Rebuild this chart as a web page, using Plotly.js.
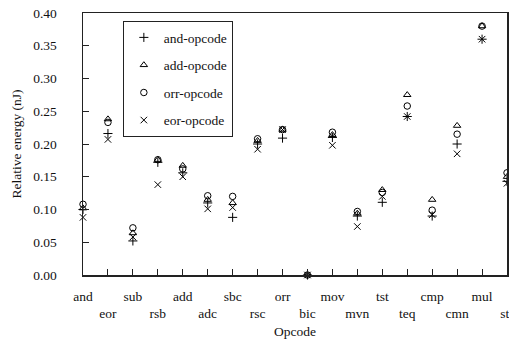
<!DOCTYPE html>
<html>
<head>
<meta charset="utf-8">
<script src="https://cdn.plot.ly/plotly-3.0.1.min.js"></script>
<style>html,body{margin:0;padding:0;background:#fff;}#chart{width:509px;height:346px;}</style>
</head>
<body>
<div id="chart"></div>
<script>
var opcodes = ["and","eor","sub","rsb","add","adc","sbc","rsc","orr","bic","mov","mvn","tst","teq","cmp","cmn","mul","str"];
var andOpcode = [0.100,0.216,0.052,0.172,0.156,0.110,0.088,0.200,0.209,0.000,0.210,0.090,0.111,0.242,0.090,0.200,0.360,0.143];
var addOpcode = [0.102,0.238,0.064,0.176,0.167,0.115,0.110,0.205,0.222,0.000,0.214,0.094,0.130,0.275,0.115,0.228,0.380,0.150];
var orrOpcode = [0.108,0.233,0.072,0.176,0.162,0.121,0.120,0.208,0.222,0.000,0.218,0.097,0.126,0.258,0.099,0.215,0.380,0.156];
var eorOpcode = [0.088,0.207,0.058,0.138,0.150,0.101,0.103,0.192,0.222,0.000,0.198,0.074,0.120,0.242,0.092,0.185,0.360,0.140];
var yTicks = [0,0.05,0.10,0.15,0.20,0.25,0.30,0.35,0.40];

var idx = opcodes.map(function(_, i){ return i; });
var tickText = opcodes.map(function(s, i){ return i % 2 === 0 ? s : "<br>" + s; });

var series = [
  {name: "and-opcode", y: andOpcode, symbol: "cross-thin-open"},
  {name: "add-opcode", y: addOpcode, symbol: "triangle-up-open"},
  {name: "orr-opcode", y: orrOpcode, symbol: "circle-open"},
  {name: "eor-opcode", y: eorOpcode, symbol: "x-thin-open"}
];
var traces = series.map(function(s){
  return {
    x: idx, y: s.y, name: s.name, type: "scatter", mode: "markers",
    legendgroup: s.name, cliponaxis: false,
    marker: {symbol: s.symbol, size: 6.5, color: "#000", line: {color: "#000", width: 1}}
  };
});

var font = {family: "'Liberation Serif', 'Times New Roman', Times, serif", size: 13.5, color: "#111"};
var layout = {
  width: 509, height: 346,
  margin: {l: 83, r: 2, t: 13, b: 71},
  paper_bgcolor: "#fff", plot_bgcolor: "#fff",
  font: font,
  showlegend: true,
  legend: {
    x: 0.094, y: 0.969, xanchor: "left", yanchor: "top",
    bordercolor: "#222", borderwidth: 1, bgcolor: "#fff",
    tracegroupgap: 7, font: font
  },
  xaxis: {
    range: [0, 17], tickmode: "array", tickvals: idx, ticktext: tickText,
    ticks: "inside", ticklen: 6, tickcolor: "#222", tickangle: 0,
    ticklabeloverflow: "allow",
    showline: true, linecolor: "#222", linewidth: 1.5, mirror: true,
    showgrid: false, zeroline: false, ticklabelstandoff: 8,
    title: {text: "Opcode", font: font, standoff: 6}
  },
  yaxis: {
    range: [0, 0.40], tickmode: "array", tickvals: yTicks, tickformat: ".2f",
    ticks: "inside", ticklen: 6, tickcolor: "#222",
    showline: true, linecolor: "#222", linewidth: 1.5, mirror: true,
    showgrid: false, zeroline: false, ticklabelstandoff: 22,
    title: {text: "Relative energy (nJ)", font: font, standoff: 8}
  }
};
Plotly.newPlot("chart", traces, layout, {displayModeBar: false, staticPlot: true});
</script>
</body>
</html>
